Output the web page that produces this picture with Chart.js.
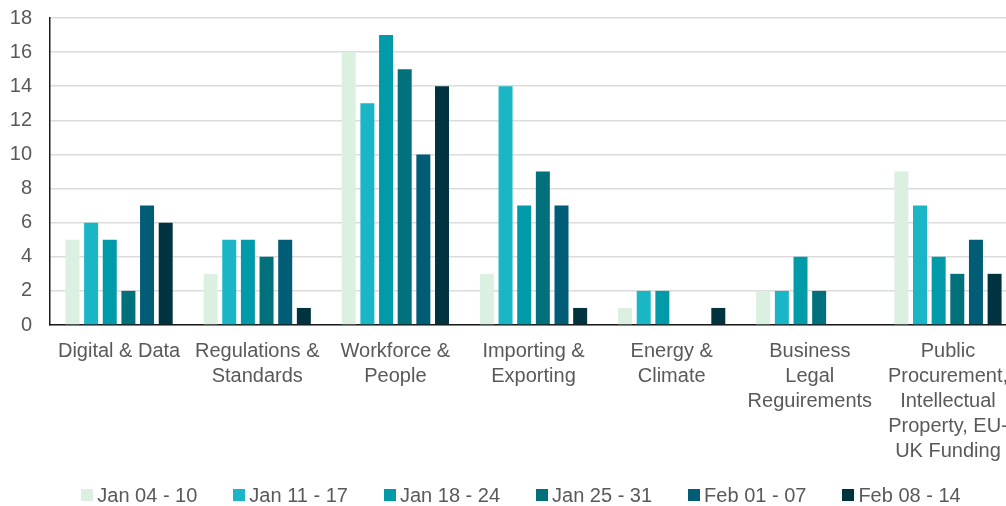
<!DOCTYPE html>
<html>
<head>
<meta charset="utf-8">
<title>Enquiries by topic, weekly</title>
<script src="https://cdn.jsdelivr.net/npm/chart.js@4/dist/chart.umd.min.js"></script>
<style>
  html, body { margin: 0; padding: 0; background: #ffffff; overflow: hidden; }
  #wrap { position: relative; width: 1022px; height: 506px; }
  #chart { position: absolute; left: 0; top: 0; }
  #legend {
    position: absolute; left: 0; top: 483px; width: 1042px; height: 24px;
    display: flex; justify-content: center; align-items: center;
    font-family: "Liberation Sans", Arial, sans-serif; font-size: 20px; line-height: 24px;
    color: #595959; white-space: nowrap;
  }
  #legend .item { display: flex; align-items: center; margin-right: 36px; }
  #legend .item:last-child { margin-right: 0; }
  #legend .box { width: 12px; height: 12px; margin-right: 4px; }
</style>
</head>
<body>
<div id="wrap">
  <canvas id="chart" width="1022" height="506"></canvas>
  <div id="legend"></div>
</div>
<script>
// Topic categories (multi-line labels as shown under the axis)
const categories = [
  ["Digital & Data"],
  ["Regulations &", "Standards"],
  ["Workforce &", "People"],
  ["Importing &", "Exporting"],
  ["Energy &", "Climate"],
  ["Business", "Legal", "Reguirements"],
  ["Public", "Procurement,", "Intellectual", "Property, EU-", "UK Funding"]
];

// Weekly series
const weekLabels = ["Jan 04 - 10", "Jan 11 - 17", "Jan 18 - 24", "Jan 25 - 31", "Feb 01 - 07", "Feb 08 - 14"];
const jan04_10 = [5, 3, 16, 3, 1, 2, 9];
const jan11_17 = [6, 5, 13, 14, 2, 2, 7];
const jan18_24 = [5, 5, 17, 7, 2, 4, 4];
const jan25_31 = [2, 4, 15, 9, 0, 2, 3];
const feb01_07 = [7, 5, 10, 7, 0, 0, 5];
const feb08_14 = [6, 1, 14, 1, 1, 0, 3];
const weekColors = ["#DBF0E0", "#1AB6C6", "#009AA8", "#00717B", "#015C75", "#003340"];

// Value axis ticks
const yTickValues = [0, 2, 4, 6, 8, 10, 12, 14, 16, 18];

const seriesValues = [jan04_10, jan11_17, jan18_24, jan25_31, feb01_07, feb08_14];
const FONT = "'Liberation Sans', Arial, sans-serif";
const TEXT = "#595959";

const chart = new Chart(document.getElementById("chart"), {
  type: "bar",
  data: {
    labels: categories,
    datasets: seriesValues.map((vals, i) => ({
      label: weekLabels[i],
      data: vals,
      backgroundColor: weekColors[i],
      borderWidth: 0,
      categoryPercentage: 0.81,
      barPercentage: 0.75
    }))
  },
  options: {
    responsive: false,
    animation: false,
    layout: { padding: { top: 18, left: 0, right: 0, bottom: 0 } },
    plugins: {
      legend: { display: false },
      tooltip: { enabled: false }
    },
    scales: {
      x: {
        grid: { display: false, drawTicks: false },
        border: { display: true, color: "#1a1a1a", width: 1.5 },
        ticks: {
          color: TEXT,
          padding: 14,
          maxRotation: 0,
          autoSkip: false,
          font: { family: FONT, size: 20, lineHeight: 1.25 }
        },
        afterFit: (s) => { s.height = 181; }
      },
      y: {
        min: 0,
        max: 18,
        afterBuildTicks: (s) => { s.ticks = yTickValues.map(v => ({ value: v })); },
        // invisible tick marks keep the labels clear of the axis line
        grid: { color: "#dcdcdc", lineWidth: 1.5, drawTicks: true, tickLength: 18, tickColor: "rgba(0,0,0,0)" },
        border: { display: true, color: "#1a1a1a", width: 1.5 },
        ticks: {
          color: TEXT,
          padding: 0,
          font: { family: FONT, size: 20 }
        },
        afterFit: (s) => { s.width = 50; }
      }
    }
  }
});

// Legend row built from the chart's datasets
const legendEl = document.getElementById("legend");
chart.data.datasets.forEach((ds) => {
  const item = document.createElement("div");
  item.className = "item";
  const box = document.createElement("span");
  box.className = "box";
  box.style.background = ds.backgroundColor;
  const txt = document.createElement("span");
  txt.textContent = ds.label;
  item.appendChild(box);
  item.appendChild(txt);
  legendEl.appendChild(item);
});
</script>
</body>
</html>
